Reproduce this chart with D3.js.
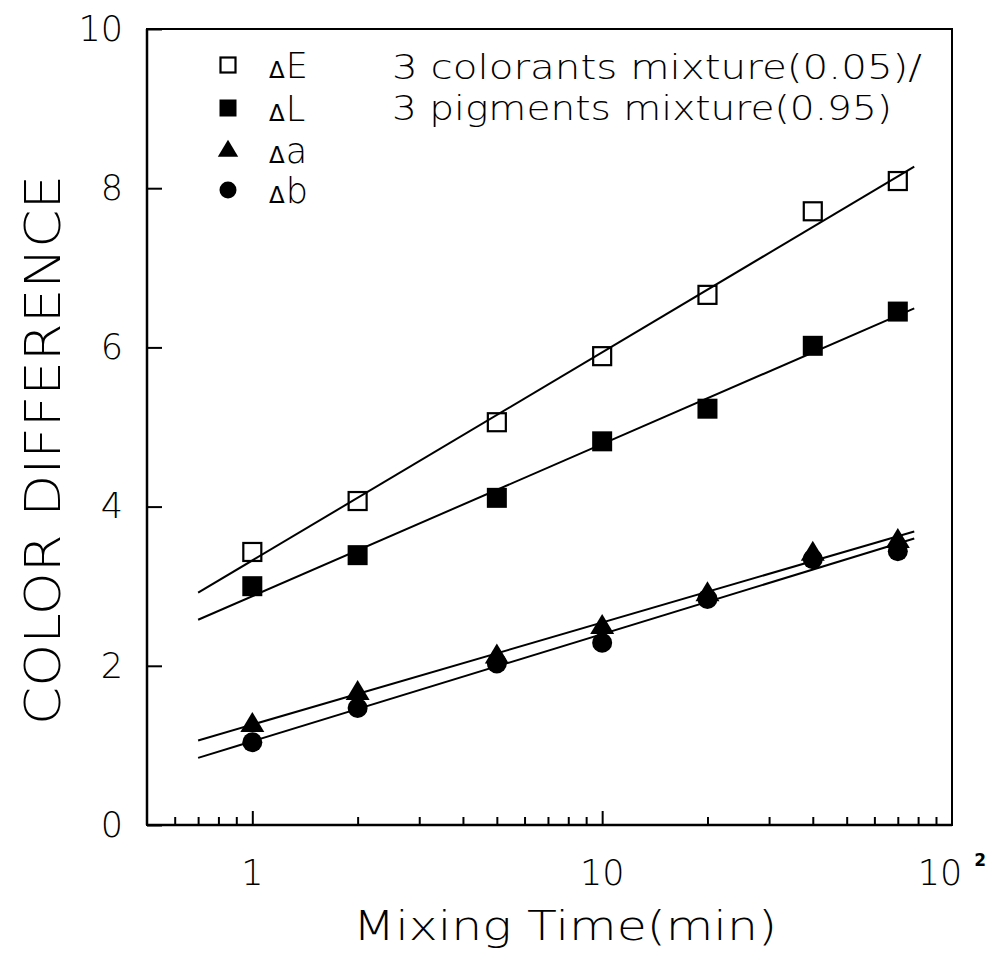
<!DOCTYPE html>
<html>
<head>
<meta charset="utf-8">
<script src="https://cdn.jsdelivr.net/npm/d3@7"></script>
<style>
  html, body { margin: 0; padding: 0; background: #fff; }
  svg text { font-family: "DejaVu Sans", "Lato", sans-serif; font-weight: 200; fill: #000; }
</style>
</head>
<body>
<svg id="chart" width="995" height="957"></svg>
<script>
// Mixing time (min) and the measured colour differences
const times = [1, 2, 5, 10, 20, 40, 70];
const deltaE = [3.43, 4.07, 5.06, 5.89, 6.66, 7.71, 8.09];
const deltaL = [3.00, 3.39, 4.11, 4.82, 5.23, 6.02, 6.45];
const deltaA = [1.27, 1.67, 2.13, 2.50, 2.91, 3.42, 3.58];
const deltaB = [1.04, 1.47, 2.03, 2.29, 2.84, 3.34, 3.44];

// Time span covered by the fitted lines
const fitSpan = [0.7, 78];

// Axis ticks
const yTickValues = [0, 2, 4, 6, 8, 10];
const xMajorTicks = [1, 10, 100];
const xLabels = ["1", "10", "10"];

const seriesNames = ["E", "L", "a", "b"];
const seriesValues = [deltaE, deltaL, deltaA, deltaB];
const seriesSymbols = ["openSquare", "square", "triangle", "circle"];

const annotationLines = ["3 colorants mixture(0.05)/", "3 pigments mixture(0.95)"];

const svg = d3.select("#chart");

const plotLeft = 147, plotRight = 952, plotTop = 29, plotBottom = 825;

const x = d3.scaleLog().domain([0.5, 100]).range([plotLeft, plotRight]);
const y = d3.scaleLinear().domain([0, 10]).range([plotBottom, plotTop]);

// Least-squares line of value against log10(time)
function fit(values) {
  const L = times.map(t => Math.log10(t));
  const mx = d3.mean(L), my = d3.mean(values);
  let sxy = 0, sxx = 0;
  L.forEach((l, i) => { sxy += (l - mx) * (values[i] - my); sxx += (l - mx) * (l - mx); });
  const slope = sxy / sxx;
  const icpt = my - slope * mx;
  return t => icpt + slope * Math.log10(t);
}

// Frame
svg.append("rect")
  .attr("x", plotLeft).attr("y", plotTop)
  .attr("width", plotRight - plotLeft).attr("height", plotBottom - plotTop)
  .attr("fill", "none").attr("stroke", "#000").attr("stroke-width", 2);

// X axis: minor and major ticks pointing inward
const minorTicks = x.ticks().filter(t => t > 0.5 && t < 100 && !xMajorTicks.includes(t));
const xMinorAxis = d3.axisBottom(x).tickValues(minorTicks).tickSize(-8).tickFormat("");
const xMajorAxis = d3.axisBottom(x).tickValues([1, 10]).tickSize(-14).tickFormat("");
[xMinorAxis, xMajorAxis].forEach(ax => {
  const g = svg.append("g").attr("transform", `translate(0,${plotBottom})`).call(ax);
  g.select(".domain").remove();
  g.selectAll(".tick line").attr("stroke", "#000").attr("stroke-width", 2);
});
svg.append("line")
  .attr("x1", plotLeft).attr("x2", plotRight).attr("y1", plotBottom).attr("y2", plotBottom)
  .attr("stroke", "#000").attr("stroke-width", 2.5);

// X tick labels
xMajorTicks.forEach((t, i) => {
  const txt = svg.append("text")
    .attr("x", x(t)).attr("y", 885)
    .attr("text-anchor", "middle")
    .attr("font-size", 35);
  txt.append("tspan").text(xLabels[i]);
  if (t === 100) {
    txt.append("tspan").text("2")
      .attr("font-size", 17).attr("font-weight", "bold")
      .attr("dx", 12).attr("dy", -19);
  }
});

// Y axis
const yAxis = d3.axisLeft(y).tickValues(yTickValues).tickSize(-15).tickPadding(24).tickFormat(d3.format("d"));
const gy = svg.append("g").attr("transform", `translate(${plotLeft},0)`).call(yAxis);
gy.select(".domain").remove();
gy.selectAll(".tick line").attr("stroke", "#000").attr("stroke-width", 2);
gy.selectAll(".tick text")
  .attr("font-size", 35)
  .attr("font-family", null);
svg.append("line")
  .attr("x1", plotLeft).attr("x2", plotLeft).attr("y1", plotTop).attr("y2", plotBottom)
  .attr("stroke", "#000").attr("stroke-width", 2.5);

// Axis titles
svg.append("text")
  .attr("x", 565).attr("y", 940)
  .attr("text-anchor", "middle")
  .attr("font-size", 40)
  .attr("textLength", 424).attr("lengthAdjust", "spacingAndGlyphs")
  .text("Mixing Time(min)");

svg.append("text")
  .attr("transform", "translate(60,450) rotate(-90)")
  .attr("text-anchor", "middle")
  .attr("font-size", 50)
  .attr("textLength", 550).attr("lengthAdjust", "spacingAndGlyphs")
  .text("COLOR DIFFERENCE");

// Fitted lines
const line = d3.line().x(d => x(d[0])).y(d => y(d[1]));
seriesValues.forEach(vals => {
  const f = fit(vals);
  svg.append("path")
    .attr("d", line(fitSpan.map(t => [t, f(t)])))
    .attr("fill", "none").attr("stroke", "#000").attr("stroke-width", 2);
});

// Markers
function drawSymbol(g, kind, cx, cy, size) {
  const h = size / 2;
  if (kind === "openSquare") {
    g.append("rect").attr("x", cx - h + 1).attr("y", cy - h + 1)
      .attr("width", size - 2).attr("height", size - 2)
      .attr("fill", "none").attr("stroke", "#000").attr("stroke-width", 2.2);
  } else if (kind === "square") {
    g.append("rect").attr("x", cx - h).attr("y", cy - h)
      .attr("width", size).attr("height", size).attr("fill", "#000");
  } else if (kind === "triangle") {
    const w = size * 1.2, th = size;
    g.append("path")
      .attr("d", `M${cx},${cy - th * 0.6}L${cx + w / 2},${cy + th * 0.4}L${cx - w / 2},${cy + th * 0.4}Z`)
      .attr("fill", "#000");
  } else {
    g.append("circle").attr("cx", cx).attr("cy", cy).attr("r", h).attr("fill", "#000");
  }
}

const markers = svg.append("g");
seriesValues.forEach((vals, s) => {
  vals.forEach((v, i) => drawSymbol(markers, seriesSymbols[s], x(times[i]), y(v), 20));
});

// Legend
const legendRows = [65, 108, 150, 190];
const legend = svg.append("g");
seriesNames.forEach((name, i) => {
  drawSymbol(legend, seriesSymbols[i], 228, legendRows[i], 17);
  const t = legend.append("text").attr("x", 269).attr("y", legendRows[i] + 13).attr("font-size", 35);
  t.append("tspan").attr("font-size", 23).attr("font-weight", 400).text("\u0394");
  t.append("tspan").attr("dx", 1).text(name);
});

// Sample description
const annotationBaselines = [79, 120];
const annotationWidths = [530, 500];
annotationLines.forEach((s, i) => {
  svg.append("text")
    .attr("x", 392).attr("y", annotationBaselines[i])
    .attr("font-size", 34)
    .attr("textLength", annotationWidths[i]).attr("lengthAdjust", "spacingAndGlyphs")
    .text(s);
});
</script>
</body>
</html>
